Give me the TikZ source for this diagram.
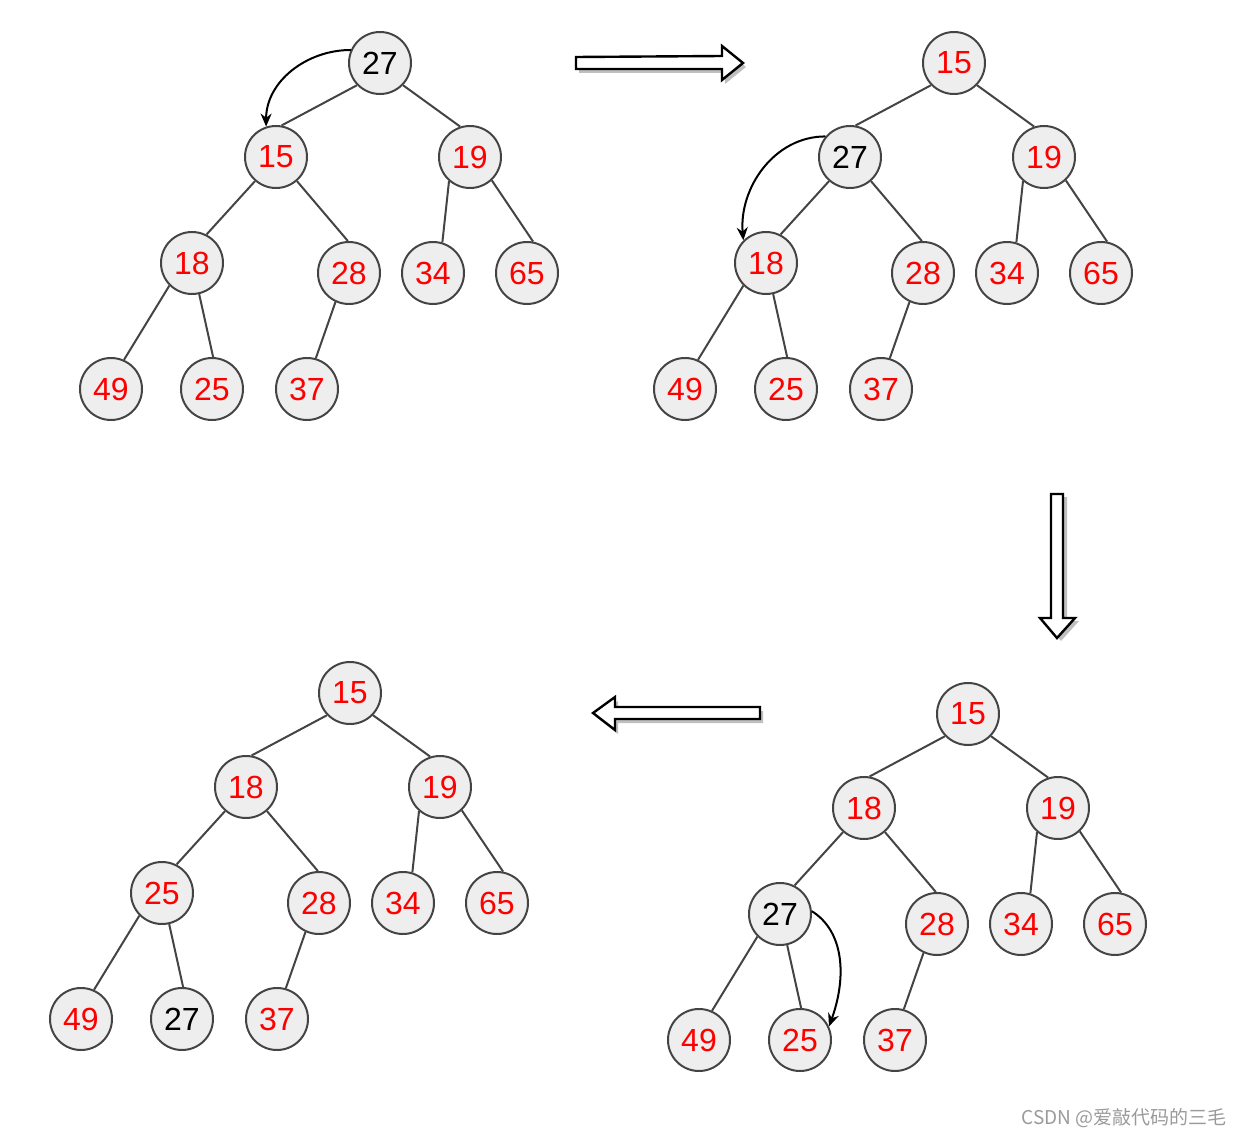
\documentclass[tikz,border=0pt]{standalone}
\usepackage{fontspec}
\setmainfont{Liberation Sans}
\newfontfamily\cjk{Noto Sans CJK SC}
\usetikzlibrary{arrows.meta}
\definecolor{edgec}{HTML}{444444}
\definecolor{nodefill}{HTML}{EEEEEE}
\definecolor{wmark}{HTML}{9A9A9A}
\newcommand\treeedges[1]{%
  \draw[tedge] (#11.-136) -- (#12.80);
  \draw[tedge] (#11.-44) -- (#13.108);
  \draw[tedge] (#12.-131) -- (#14.63);
  \draw[tedge] (#12.-49) -- (#15.92);
  \draw[tedge] (#13.-131) -- (#16.73);
  \draw[tedge] (#13.-47) -- (#17.79);
  \draw[tedge] (#14.-135) -- (#18.66);
  \draw[tedge] (#14.-77) -- (#19.88);
  \draw[tedge] (#15.-115) -- (#110.74);
}
\begin{document}
\begin{tikzpicture}[x=1pt,y=-1pt,
  hn/.style={circle,draw=edgec,fill=nodefill,line width=2pt,minimum size=62pt,inner sep=0pt,font=\fontsize{32}{36}\selectfont,text=red},
  hb/.style={hn,text=black},
  tedge/.style={draw=edgec,line width=2pt},
  swaparrow/.style={-{Stealth[length=13pt,width=11pt]},line width=2pt,black},
  blk/.style={draw=black,line width=2.4pt,fill=white,line join=miter},
  blkshadow/.style={fill=black!25,draw=none}]
\useasboundingbox (0,0) rectangle (1243,1137);

% ---------- Tree 1 ----------
\begin{scope}[shift={(0,0)}]
\node[hb] (a1) at (380,63) {27};
\node[hn] (a2) at (276,157) {15};
\node[hn] (a3) at (470,157) {19};
\node[hn] (a4) at (192,263) {18};
\node[hn] (a5) at (349,273) {28};
\node[hn] (a6) at (433,273) {34};
\node[hn] (a7) at (527,273) {65};
\node[hn] (a8) at (111,389) {49};
\node[hn] (a9) at (212,389) {25};
\node[hn] (a10) at (307,389) {37};
\end{scope}
\treeedges{a}
\draw[swaparrow] (a1.156) to[out=180,in=90] (a2.108);

% ---------- Tree 2 ----------
\begin{scope}[shift={(574,0)}]
\node[hn] (b1) at (380,63) {15};
\node[hb] (b2) at (276,157) {27};
\node[hn] (b3) at (470,157) {19};
\node[hn] (b4) at (192,263) {18};
\node[hn] (b5) at (349,273) {28};
\node[hn] (b6) at (433,273) {34};
\node[hn] (b7) at (527,273) {65};
\node[hn] (b8) at (111,389) {49};
\node[hn] (b9) at (212,389) {25};
\node[hn] (b10) at (307,389) {37};
\end{scope}
\treeedges{b}
\draw[swaparrow] (b2.140) to[out=180,in=95] (b4.135);

% ---------- Tree 3 ----------
\begin{scope}[shift={(588,651)}]
\node[hn] (c1) at (380,63) {15};
\node[hn] (c2) at (276,157) {18};
\node[hn] (c3) at (470,157) {19};
\node[hb] (c4) at (192,263) {27};
\node[hn] (c5) at (349,273) {28};
\node[hn] (c6) at (433,273) {34};
\node[hn] (c7) at (527,273) {65};
\node[hn] (c8) at (111,389) {49};
\node[hn] (c9) at (212,389) {25};
\node[hn] (c10) at (307,389) {37};
\end{scope}
\treeedges{c}
\draw[swaparrow] (c4.5) .. controls +(32,20) and +(18,-50) .. (c9.25);

% ---------- Tree 4 ----------
\begin{scope}[shift={(-30,630)}]
\node[hn] (d1) at (380,63) {15};
\node[hn] (d2) at (276,157) {18};
\node[hn] (d3) at (470,157) {19};
\node[hn] (d4) at (192,263) {25};
\node[hn] (d5) at (349,273) {28};
\node[hn] (d6) at (433,273) {34};
\node[hn] (d7) at (527,273) {65};
\node[hn] (d8) at (111,389) {49};
\node[hb] (d9) at (212,389) {27};
\node[hn] (d10) at (307,389) {37};
\end{scope}
\treeedges{d}

% ---------- Block arrows ----------
% right arrow
\begin{scope}[shift={(3,4)}]
\fill[blkshadow] (576,57) -- (722,56) -- (722,46) -- (743,63) -- (722,80) -- (722,69) -- (576,69) -- cycle;
\end{scope}
\draw[blk] (576,57) -- (722,56) -- (722,46) -- (743,63) -- (722,80) -- (722,69) -- (576,69) -- cycle;
% down arrow
\begin{scope}[shift={(4,3)}]
\fill[blkshadow] (1051,494) -- (1063,494) -- (1063,618) -- (1075,618) -- (1057,638) -- (1040,618) -- (1051,618) -- cycle;
\end{scope}
\draw[blk] (1051,494) -- (1063,494) -- (1063,618) -- (1075,618) -- (1057,638) -- (1040,618) -- (1051,618) -- cycle;
% left arrow
\begin{scope}[shift={(3,4)}]
\fill[blkshadow] (760,707) -- (615,707) -- (615,697) -- (593,713) -- (615,730) -- (615,719) -- (760,719) -- cycle;
\end{scope}
\draw[blk] (760,707) -- (615,707) -- (615,697) -- (593,713) -- (615,730) -- (615,719) -- (760,719) -- cycle;

% watermark
\node[text=wmark,font=\cjk\fontsize{19}{22}\selectfont,anchor=east,inner sep=0pt] (wm) at (1227,1118) {CSDN @爱敲代码的三毛};
\end{tikzpicture}
\end{document}
